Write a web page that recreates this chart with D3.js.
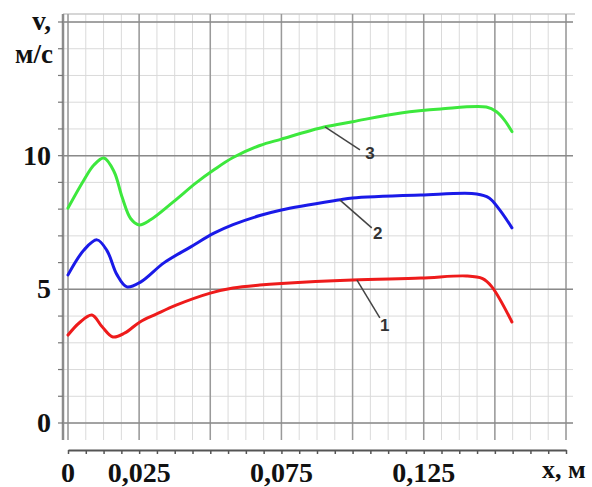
<!DOCTYPE html>
<html>
<head>
<meta charset="utf-8">
<script src="https://cdn.jsdelivr.net/npm/d3@7/dist/d3.min.js"></script>
<style>
    body { margin: 0; background: #fff; }
    svg text { font-family: "Liberation Serif", "Times New Roman", serif; font-weight: bold; fill: #111; }
    svg text.lbl { font-family: "Liberation Sans", Arial, sans-serif; font-size: 17px; fill: #333; }
</style>
</head>
<body>
<div id="chart"></div>
<script>

// curve 1 (red)
const x1 = [0, 0.004, 0.0084, 0.012, 0.0158, 0.02, 0.0253, 0.031, 0.038, 0.05, 0.058, 0.0674, 0.075, 0.1, 0.124, 0.14, 0.1457, 0.1489, 0.156];
const v1 = [3.29, 3.75, 4.04, 3.6, 3.22, 3.37, 3.78, 4.07, 4.41, 4.86, 5.05, 5.16, 5.22, 5.35, 5.42, 5.5, 5.4, 5.1, 3.78];

// curve 2 (blue)
const x2 = [0, 0.0056, 0.0102, 0.0137, 0.0172, 0.0207, 0.0256, 0.0337, 0.043, 0.0513, 0.058, 0.0674, 0.075, 0.095, 0.1, 0.124, 0.1436, 0.148, 0.1517, 0.156];
const v2 = [5.54, 6.47, 6.85, 6.45, 5.55, 5.09, 5.28, 5.99, 6.58, 7.1, 7.42, 7.76, 7.97, 8.34, 8.42, 8.53, 8.57, 8.42, 7.97, 7.3];

// curve 3 (green)
const x3 = [0, 0.0056, 0.0091, 0.0126, 0.0162, 0.019, 0.022, 0.025, 0.029, 0.037, 0.045, 0.0513, 0.058, 0.0674, 0.075, 0.09, 0.1, 0.117, 0.131, 0.147, 0.1506, 0.1533, 0.156];
const v3 = [8.04, 9.09, 9.65, 9.91, 9.4, 8.45, 7.65, 7.41, 7.6, 8.27, 8.98, 9.47, 9.93, 10.38, 10.62, 11.07, 11.27, 11.6, 11.75, 11.82, 11.64, 11.34, 10.9];

const curveNames = ["1", "2", "3"];
const curveLabelAt = [0.1015, 0.0955, 0.0903];   // x where the leader touches the curve

const xTickLabels = [0, 0.025, 0.075, 0.125];
const xTickText = ["0", "0,025", "0,075", "0,125"];
const yTickLabels = [0, 5, 10];
const yTickText = ["0", "5", "10"];

const colors = ["#ee1b1b", "#1a1ae8", "#3de83d"];

// where the leader ends and the number sits, relative to the anchor (px)
const leaderOff = [[23, 38], [32, 28], [35, 23]];
const textOff = [[28, 51], [38, 39], [45, 32]];

const width = 592, height = 487;
const frame = {left: 63, right: 573, top: 14, bottom: 440};

const svg = d3.select("#chart").append("svg")
    .attr("width", width)
    .attr("height", height);

const x = d3.scaleLinear().domain([0, 0.175]).range([68, 566]);
const y = d3.scaleLinear().domain([0, 15]).range([423, 22]);

const xMinor = d3.range(0, 0.175 + 1e-9, 0.00625);
const xMajor = d3.range(0, 0.175 + 1e-9, 0.025);
const yMinor = d3.range(0, 16, 1);
const yMajor = [0, 5, 10, 15];

let grid = svg.append("g").attr("class", "grid");

// minor grid
grid.selectAll("line.vmin").data(xMinor).enter().append("line")
    .attr("x1", d => x(d)).attr("x2", d => x(d))
    .attr("y1", frame.top).attr("y2", frame.bottom)
    .attr("stroke", "#dadada").attr("stroke-width", 1);

grid.selectAll("line.hmin").data(yMinor).enter().append("line")
    .attr("x1", frame.left).attr("x2", frame.right)
    .attr("y1", d => y(d)).attr("y2", d => y(d))
    .attr("stroke", "#dadada").attr("stroke-width", 1);

// top border
grid.append("line")
    .attr("x1", frame.left).attr("x2", frame.right + 2)
    .attr("y1", frame.top).attr("y2", frame.top)
    .attr("stroke", "#c8c8c8").attr("stroke-width", 1.5);

// major grid
grid.selectAll("line.vmaj").data(xMajor).enter().append("line")
    .attr("x1", d => x(d)).attr("x2", d => x(d))
    .attr("y1", frame.top).attr("y2", frame.bottom)
    .attr("stroke", "#9a9a9a").attr("stroke-width", 1.5);

grid.selectAll("line.hmaj").data(yMajor).enter().append("line")
    .attr("x1", frame.left).attr("x2", frame.right)
    .attr("y1", d => y(d)).attr("y2", d => y(d))
    .attr("stroke", "#8a8a8a").attr("stroke-width", 1.5);

// y axis line + ticks
svg.append("line")
    .attr("x1", frame.left).attr("x2", frame.left)
    .attr("y1", frame.top).attr("y2", frame.bottom)
    .attr("stroke", "#8c8c8c").attr("stroke-width", 2.5);

svg.selectAll("line.ytick").data(yMinor).enter().append("line")
    .attr("x1", frame.left - 5).attr("x2", frame.left)
    .attr("y1", d => y(d)).attr("y2", d => y(d))
    .attr("stroke", "#777").attr("stroke-width", 1.2);

// x axis (separate, below the frame)
let xAxis = d3.axisBottom(x)
    .tickValues(xMinor)
    .tickSize(4)
    .tickSizeOuter(0)
    .tickFormat("");

let xg = svg.append("g")
    .attr("transform", "translate(0,450)")
    .call(xAxis);
xg.select(".domain").attr("stroke", "#555").attr("stroke-width", 2);
xg.selectAll(".tick line").attr("stroke", "#555").attr("stroke-width", 1.5);

// tick labels
svg.selectAll("text.xl").data(xTickLabels).enter().append("text")
    .attr("x", d => x(d))
    .attr("y", 482)
    .attr("text-anchor", "middle")
    .style("font-size", "28px")
    .text((d, i) => xTickText[i]);

svg.selectAll("text.yl").data(yTickLabels).enter().append("text")
    .attr("x", 51)
    .attr("y", d => y(d) + 9)
    .attr("text-anchor", "end")
    .style("font-size", "28px")
    .text((d, i) => yTickText[i]);

// axis titles
svg.append("text").attr("x", 51).attr("y", 30).attr("text-anchor", "end")
    .style("font-size", "27px").text("v,");
svg.append("text").attr("x", 53).attr("y", 63).attr("text-anchor", "end")
    .style("font-size", "27px").text("м/с");
svg.append("text").attr("x", 542).attr("y", 478)
    .style("font-size", "26px").text("x, м");

// curves
const series = [[x1, v1], [x2, v2], [x3, v3]].map(([xs, vs]) => xs.map((d, i) => ({x: d, v: vs[i]})));

const line = d3.line()
    .x(d => x(d.x))
    .y(d => y(d.v))
    .curve(d3.curveCatmullRom.alpha(0.5));

svg.selectAll("path.curve").data(series).enter().append("path")
    .attr("fill", "none")
    .attr("stroke", (d, i) => colors[i])
    .attr("stroke-width", 3)
    .attr("stroke-linejoin", "round")
    .attr("stroke-linecap", "round")
    .attr("d", line);

function valueAt(data, t) {
    let i = d3.bisector(d => d.x).left(data, t);
    if (i <= 0) return data[0].v;
    let a = data[i - 1], b = data[i];
    return a.v + (b.v - a.v) * (t - a.x) / (b.x - a.x);
}

// numbered leaders
curveNames.forEach((name, i) => {
    let ax = x(curveLabelAt[i]);
    let ay = y(valueAt(series[i], curveLabelAt[i]));

    svg.append("line")
        .attr("x1", ax).attr("y1", ay)
        .attr("x2", ax + leaderOff[i][0]).attr("y2", ay + leaderOff[i][1])
        .attr("stroke", "#444").attr("stroke-width", 1.5);

    svg.append("text")
        .classed("lbl", true)
        .attr("x", ax + textOff[i][0])
        .attr("y", ay + textOff[i][1])
        .attr("text-anchor", "middle")
        .text(name);
});

</script>
</body>
</html>
